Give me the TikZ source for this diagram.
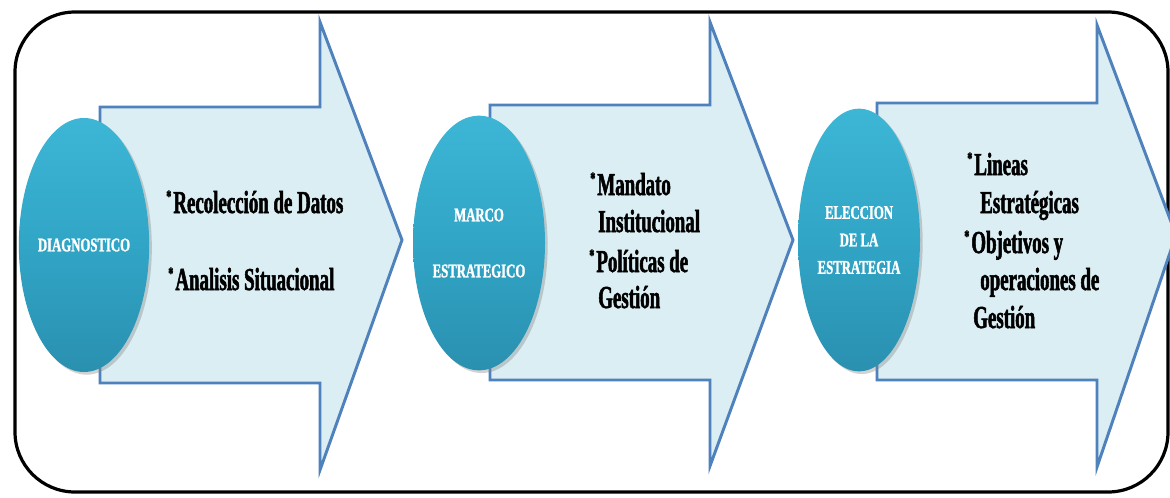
\documentclass[tikz,border=0pt]{standalone}
\usepackage{fontspec}
\usetikzlibrary{shapes.geometric,shadows}
\newfontfamily\bodyf{Liberation Serif}[FakeStretch=0.59,FakeBold=1.6]
\newfontfamily\ellf{Liberation Serif}[FakeStretch=0.66,FakeBold=1.4]
\definecolor{arrowfill}{HTML}{DAEEF3}
\definecolor{arrowline}{HTML}{4F81BD}
\definecolor{ballA}{HTML}{3DB6D6}
\definecolor{ballM}{HTML}{31A5C6}
\definecolor{ballB}{HTML}{2A90B0}
\newcommand\mybul{\raisebox{0.75ex}{\fontsize{13}{13}\selectfont *}\hspace{1.5pt}}
\begin{document}
\begin{tikzpicture}[x=0.75pt,y=-0.75pt,
  frame/.style={draw=black,line width=2.4pt,rounded corners=45pt,fill=white},
  bigarrow/.style={draw=arrowline,fill=arrowfill,line width=2.2pt,line join=miter},
  stage/.style={ellipse,inner sep=0pt,top color=ballA,bottom color=ballB,middle color=ballM,draw=none,
    drop shadow={shadow xshift=2pt,shadow yshift=-2pt,opacity=0.35},
    text=white,align=center},
  item/.style={anchor=base west,inner sep=0pt,font=\bodyf\bfseries\fontsize{24}{28}\selectfont,text=black}]
\useasboundingbox (0,0) rectangle (1170,497);
\fill[white] (0,0) rectangle (1170,497);
\begin{scope}
\clip (0,0) rectangle (1170,497);
\draw[frame] (15,12) rectangle (1168,492);
% arrows
\draw[bigarrow] (100,107) -- (320,107) -- (320,22) -- (402,240) -- (320,470) -- (320,383) -- (100,383) -- cycle;
\draw[bigarrow] (490,105) -- (710,105) -- (710,22) -- (793,240) -- (710,466) -- (710,380) -- (490,380) -- cycle;
\draw[bigarrow] (877,103) -- (1097,103) -- (1097,25) -- (1176,235) -- (1097,467) -- (1097,380) -- (877,380) -- cycle;
\end{scope}
% stages
\node[stage,minimum width=93.75pt,minimum height=190.5pt,font=\ellf\bfseries\fontsize{14.5}{17}\selectfont] (s1) at (84,245) {DIAGNOSTICO};
\node[stage,minimum width=99pt,minimum height=191pt,font=\ellf\bfseries\fontsize{14.5}{42}\selectfont] (s2) at (479,243) {MARCO\\ESTRATEGICO};
\node[stage,minimum width=91.5pt,minimum height=197pt,font=\ellf\bfseries\fontsize{14.5}{20.6}\selectfont] (s3) at (859,240) {ELECCION\\DE LA\\ESTRATEGIA};
% items
\node[item] (t1a) at (166,213) {\mybul Recolección de Datos};
\node[item] (t1b) at (168,290) {\mybul Analisis Situacional};
\node[item] (t2a) at (590,195) {\mybul Mandato};
\node[item] (t2b) at (598,232) {Institucional};
\node[item] (t2c) at (589,272) {\mybul Políticas de};
\node[item] (t2d) at (598,308) {Gestión};
\node[item] (t3a) at (967,175) {\mybul Lineas};
\node[item] (t3b) at (980,213) {Estratégicas};
\node[item] (t3c) at (964,253) {\mybul Objetivos y};
\node[item] (t3d) at (980,290) {operaciones de};
\node[item] (t3e) at (973,328) {Gestión};
\end{tikzpicture}
\end{document}
